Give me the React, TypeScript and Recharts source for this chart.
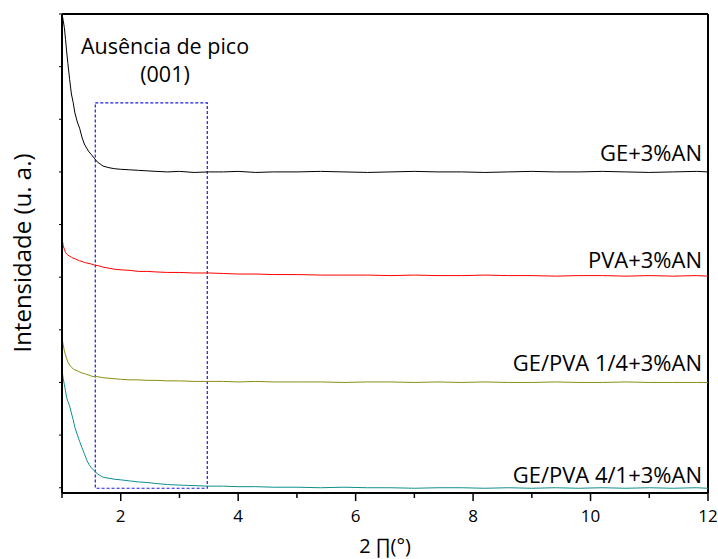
import { LineChart, Line, XAxis, YAxis, ReferenceArea, ReferenceLine } from "recharts";

// 2θ (degrees)
const twoTheta = [
    1.0, 1.02, 1.04, 1.06, 1.08, 1.1, 1.13, 1.16, 1.19, 1.22,
    1.26, 1.3, 1.34, 1.38, 1.42, 1.46, 1.5, 1.55, 1.6, 1.65,
    1.7, 1.8, 1.9, 2.0, 2.15, 2.3, 2.45, 2.6, 2.8, 3.0,
    3.25, 3.5, 3.75, 4.0, 4.3, 4.6, 5.0, 5.4, 5.8, 6.2,
    6.6, 7.0, 7.4, 7.8, 8.2, 8.6, 9.0, 9.4, 9.8, 10.2,
    10.6, 11.0, 11.4, 11.8, 12.0,
];

// intensities (offset, arbitrary units)
const geAN = [
    9.0, 8.88, 8.74, 8.52, 8.28, 8.06, 7.76, 7.48, 7.32, 7.12,
    6.95, 6.83, 6.66, 6.53, 6.45, 6.38, 6.33, 6.26, 6.19, 6.15,
    6.11, 6.08, 6.06, 6.05, 6.04, 6.03, 6.02, 6.01, 6.0, 6.01,
    5.99, 6.0, 6.0, 6.01, 5.99, 6.0, 6.0, 6.01, 6.0, 5.99,
    6.0, 6.01, 6.0, 6.0, 5.99, 6.0, 6.01, 6.0, 6.0, 6.01,
    6.0, 5.99, 6.0, 6.01, 6.0,
];
const pvaAN = [
    4.74, 4.6, 4.53, 4.47, 4.44, 4.42, 4.4, 4.38, 4.36, 4.35,
    4.33, 4.31, 4.3, 4.28, 4.27, 4.26, 4.25, 4.23, 4.22, 4.21,
    4.19, 4.17, 4.15, 4.14, 4.13, 4.11, 4.11, 4.1, 4.09, 4.09,
    4.08, 4.08, 4.07, 4.06, 4.06, 4.05, 4.05, 4.04, 4.04, 4.04,
    4.03, 4.04, 4.03, 4.03, 4.04, 4.03, 4.03, 4.02, 4.03, 4.03,
    4.02, 4.03, 4.02, 4.03, 4.02,
];
const gePva14AN = [
    2.84, 2.72, 2.6, 2.52, 2.45, 2.39, 2.33, 2.29, 2.26, 2.24,
    2.22, 2.2, 2.18, 2.17, 2.15, 2.14, 2.12, 2.11, 2.11, 2.1,
    2.09, 2.08, 2.07, 2.06, 2.05, 2.05, 2.04, 2.04, 2.03, 2.03,
    2.02, 2.02, 2.02, 2.01, 2.02, 2.01, 2.01, 2.01, 2.0, 2.01,
    2.01, 2.0, 2.01, 2.0, 2.01, 2.0, 2.0, 2.01, 2.0, 2.0,
    2.01, 2.0, 2.0, 2.0, 2.0,
];
const gePva41AN = [
    2.24, 2.08, 1.96, 1.84, 1.71, 1.64, 1.55, 1.42, 1.29, 1.14,
    1.01, 0.88, 0.76, 0.65, 0.53, 0.44, 0.38, 0.32, 0.27, 0.23,
    0.2, 0.18, 0.16, 0.15, 0.13, 0.11, 0.1, 0.08, 0.06, 0.05,
    0.04, 0.03, 0.03, 0.02, 0.02, 0.01, 0.01, 0.0, 0.01, 0.0,
    0.0, -0.01, 0.0, 0.0, -0.01, 0.0, -0.01, 0.0, -0.01, 0.0,
    -0.01, 0.0, -0.01, 0.0, -0.01,
];

const xTicks = [1, 2, 3, 4, 5, 6, 7, 8, 9, 10, 11, 12];
const yTicks = [0, 1, 2, 3, 4, 5, 6, 7, 8, 9];

const seriesLabels = ["GE+3%AN", "PVA+3%AN", "GE/PVA 1/4+3%AN", "GE/PVA 4/1+3%AN"];
const seriesColors = ["#000000", "#ff0000", "#8c8c14", "#0f8f8f"];

const FONT = "'Open Sans', sans-serif";

const data = twoTheta.map((x, i) => ({
    x,
    ge: geAN[i],
    pva: pvaAN[i],
    mix14: gePva14AN[i],
    mix41: gePva41AN[i],
}));

function XTick(props: any) {
    const { x, y, payload } = props;
    const major = payload.value % 2 === 0;
    return (
        <g>
            <line x1={x} x2={x} y1={y} y2={y + (major ? 8 : 5)} stroke="#000" strokeWidth={1.5} />
            {major && (
                <text x={x} y={y + 29} textAnchor="middle" fontSize={17} fontFamily={FONT} fill="#000">
                    {payload.value}
                </text>
            )}
        </g>
    );
}

function YTick(props: any) {
    const { x, y } = props;
    return <line x1={x - 3} x2={x} y1={y} y2={y} stroke="#000" strokeWidth={1} />;
}

const labelStyle: React.CSSProperties = {
    position: "absolute",
    fontFamily: FONT,
    fontSize: 22,
    color: "#000",
    whiteSpace: "nowrap",
    lineHeight: "22px",
};

export default function App() {
    const labelTops = [141, 248, 351, 463];
    return (
        <div style={{ position: "absolute", left: 0, top: 0, width: 718, height: 559, background: "#fff", overflow: "hidden" }}>
            <LineChart width={718} height={559} data={data} margin={{ top: 14, right: 10, left: 2, bottom: 26 }}>
                <XAxis
                    dataKey="x"
                    type="number"
                    domain={[1, 12]}
                    ticks={xTicks}
                    interval={0}
                    height={40}
                    tickSize={0}
                    tickMargin={0}
                    tickLine={false}
                    tick={<XTick />}
                    axisLine={{ stroke: "#000", strokeWidth: 2 }}
                    allowDataOverflow
                />
                <YAxis
                    type="number"
                    domain={[-0.1, 9]}
                    ticks={yTicks}
                    interval={0}
                    width={60}
                    tickSize={0}
                    tickMargin={0}
                    tickLine={false}
                    tick={<YTick />}
                    axisLine={{ stroke: "#000", strokeWidth: 2 }}
                    allowDataOverflow
                />
                <ReferenceLine y={9} stroke="#000" strokeWidth={2} ifOverflow="visible" />
                <ReferenceLine x={12} stroke="#000" strokeWidth={2} ifOverflow="visible" />
                <ReferenceArea
                    x1={1.567}
                    x2={3.474}
                    y1={-0.01}
                    y2={7.31}
                    fill="none"
                    fillOpacity={0}
                    stroke="#1a1ae6"
                    strokeWidth={1.2}
                    strokeDasharray="3 2"
                />
                <Line dataKey="ge" stroke={seriesColors[0]} strokeWidth={1} dot={false} isAnimationActive={false} />
                <Line dataKey="pva" stroke={seriesColors[1]} strokeWidth={1} dot={false} isAnimationActive={false} />
                <Line dataKey="mix14" stroke={seriesColors[2]} strokeWidth={1} dot={false} isAnimationActive={false} />
                <Line dataKey="mix41" stroke={seriesColors[3]} strokeWidth={1} dot={false} isAnimationActive={false} />
            </LineChart>

            {seriesLabels.map((s, i) => (
                <div key={s} style={{ ...labelStyle, right: 16, top: labelTops[i] }}>{s}</div>
            ))}

            <div style={{ ...labelStyle, left: 75, top: 35, width: 180, textAlign: "center", fontSize: 21.5 }}>
                Ausência de pico
            </div>
            <div style={{ ...labelStyle, left: 75, top: 63, width: 180, textAlign: "center", fontSize: 21.5 }}>
                (001)
            </div>

            <div
                style={{
                    ...labelStyle,
                    left: 22,
                    top: 253,
                    transform: "translate(-50%, -50%) rotate(-90deg)",
                    fontSize: 24,
                    lineHeight: "24px",
                }}
            >
                Intensidade (u. a.)
            </div>

            <div style={{ ...labelStyle, left: 385, top: 535, transform: "translateX(-50%)", fontSize: 20, lineHeight: "22px" }}>
                2 ∏(°)
            </div>
        </div>
    );
}
